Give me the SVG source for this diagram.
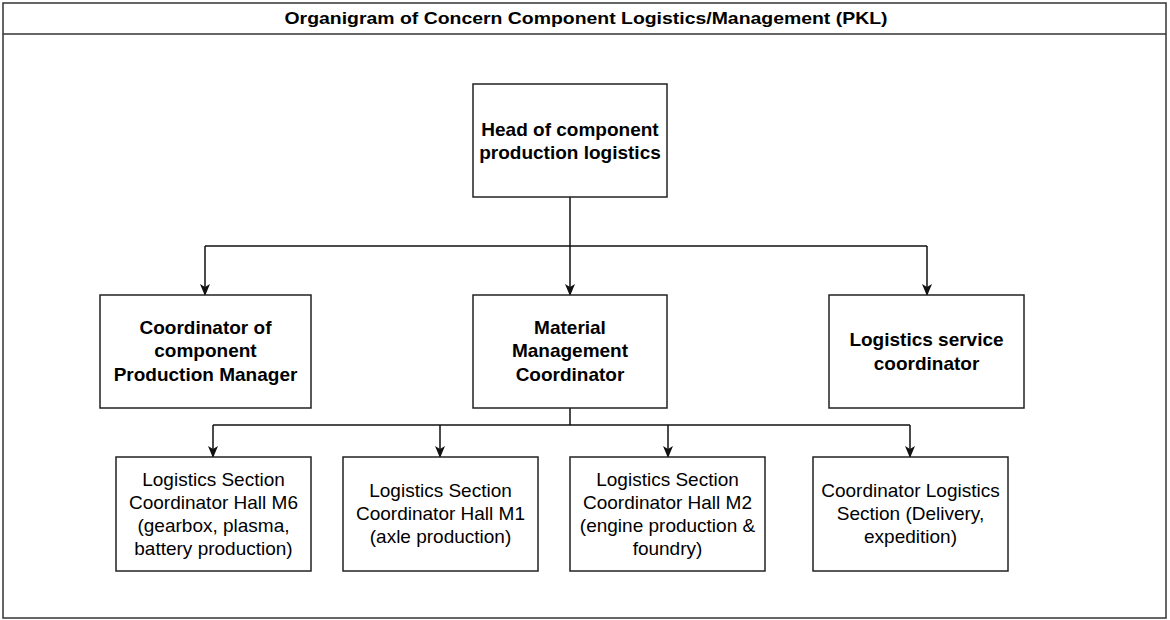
<svg xmlns="http://www.w3.org/2000/svg" width="1170" height="620" viewBox="0 0 1170 620">
<style>
.box{fill:#fff;stroke:#222;stroke-width:1.5}
.frame{fill:#fff;stroke:#333;stroke-width:1.5}
.b{font-family:"Liberation Sans",Arial,sans-serif;font-size:19px;font-weight:bold;fill:#000;text-anchor:middle}
.n{font-family:"Liberation Sans",Arial,sans-serif;font-size:19px;fill:#000;text-anchor:middle}
.t{font-family:"Liberation Sans",Arial,sans-serif;font-size:17px;font-weight:bold;fill:#000;text-anchor:middle}
.c{fill:none;stroke:#111;stroke-width:1.5}
</style>
<defs>
<marker id="ah" markerUnits="userSpaceOnUse" markerWidth="10" markerHeight="12" refX="5" refY="11" orient="0" viewBox="0 0 10 12">
<path d="M0,0 L5,3 L10,0 L5,12 Z" fill="#111"/>
</marker>
</defs>
<g id="frame">
<rect class="frame" x="3" y="3" width="1163" height="615"/>
<line x1="3" y1="34" x2="1166" y2="34" stroke="#333" stroke-width="1.5"/>
<text class="t" x="586" y="24" textLength="603" lengthAdjust="spacingAndGlyphs">Organigram of Concern Component Logistics/Management (PKL)</text>
</g>
<g id="connectors">
<path class="c" d="M570,197 V246"/>
<path class="c" d="M205,246 H927"/>
<path class="c" d="M205,246 V295" marker-end="url(#ah)"/>
<path class="c" d="M570,246 V295" marker-end="url(#ah)"/>
<path class="c" d="M927,246 V295" marker-end="url(#ah)"/>
<path class="c" d="M570,408 V425"/>
<path class="c" d="M213,425 H910"/>
<path class="c" d="M213,425 V457" marker-end="url(#ah)"/>
<path class="c" d="M440,425 V457" marker-end="url(#ah)"/>
<path class="c" d="M668,425 V457" marker-end="url(#ah)"/>
<path class="c" d="M910,425 V457" marker-end="url(#ah)"/>
</g>
<g id="head">
<rect class="box" x="473" y="84" width="194" height="113"/>
<text class="b" x="570" y="136">Head of component</text>
<text class="b" x="570" y="159">production logistics</text>
</g>
<g id="coord-production">
<rect class="box" x="100" y="295" width="211" height="113"/>
<text class="b" x="205.5" y="334">Coordinator of</text>
<text class="b" x="205.5" y="357">component</text>
<text class="b" x="205.5" y="381">Production Manager</text>
</g>
<g id="material">
<rect class="box" x="473" y="295" width="194" height="113"/>
<text class="b" x="570" y="334">Material</text>
<text class="b" x="570" y="357">Management</text>
<text class="b" x="570" y="381">Coordinator</text>
</g>
<g id="service">
<rect class="box" x="829" y="295" width="195" height="113"/>
<text class="b" x="926.5" y="346">Logistics service</text>
<text class="b" x="926.5" y="370">coordinator</text>
</g>
<g id="m6">
<rect class="box" x="116" y="457" width="195" height="114"/>
<text class="n" x="213.5" y="486">Logistics Section</text>
<text class="n" x="213.5" y="509">Coordinator Hall M6</text>
<text class="n" x="213.5" y="532">(gearbox, plasma,</text>
<text class="n" x="213.5" y="555">battery production)</text>
</g>
<g id="m1">
<rect class="box" x="343" y="457" width="195" height="114"/>
<text class="n" x="440.5" y="497">Logistics Section</text>
<text class="n" x="440.5" y="520">Coordinator Hall M1</text>
<text class="n" x="440.5" y="543">(axle production)</text>
</g>
<g id="m2">
<rect class="box" x="570" y="457" width="195" height="114"/>
<text class="n" x="667.5" y="486">Logistics Section</text>
<text class="n" x="667.5" y="509">Coordinator Hall M2</text>
<text class="n" x="667.5" y="532">(engine production &amp;</text>
<text class="n" x="667.5" y="555">foundry)</text>
</g>
<g id="delivery">
<rect class="box" x="813" y="457" width="195" height="114"/>
<text class="n" x="910.5" y="497">Coordinator Logistics</text>
<text class="n" x="910.5" y="520">Section (Delivery,</text>
<text class="n" x="910.5" y="543">expedition)</text>
</g>
</svg>
